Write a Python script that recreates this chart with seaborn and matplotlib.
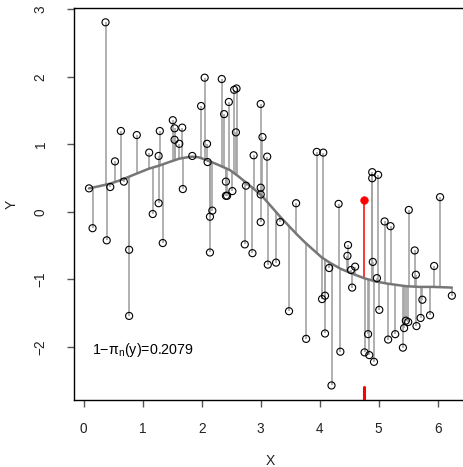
import numpy as np
import pandas as pd
import matplotlib
matplotlib.use("Agg")
import matplotlib.pyplot as plt
import seaborn as sns

# ---- data ----
pt_x = [0.09, 0.15, 0.37, 0.39, 0.45, 0.53, 0.63, 0.68, 0.77, 0.77,
        0.90, 1.11, 1.17, 1.27, 1.27, 1.29, 1.34, 1.51, 1.54, 1.54,
        1.62, 1.67, 1.68, 1.84, 1.99, 2.05, 2.09, 2.10, 2.14, 2.18,
        2.14, 2.34, 2.38, 2.46, 2.55, 2.59, 2.58, 2.41, 2.41, 2.43,
        2.52, 2.75, 2.73, 2.86, 2.88, 3.00, 3.03, 3.11, 3.00, 3.00,
        3.00, 3.12, 3.26, 3.33, 3.48, 3.60, 3.77, 3.95, 4.06, 4.04,
        4.09, 4.09, 4.16, 4.20, 4.32, 4.35, 4.48, 4.47, 4.53, 4.55,
        4.60, 4.76, 4.82, 4.84, 4.89, 4.89, 4.90, 4.92, 4.97, 4.99,
        5.01, 5.10, 5.16, 5.20, 5.28, 5.41, 5.43, 5.46, 5.50, 5.51,
        5.61, 5.63, 5.64, 5.71, 5.74, 5.87, 5.94, 6.04, 6.24]
pt_y = [0.35, -0.24, 2.81, -0.42, 0.37, 0.75, 1.20, 0.45, -0.56, -1.54,
        1.14, 0.88, -0.03, 0.83, 0.13, 1.20, -0.46, 1.36, 1.24, 1.07,
        1.01, 1.25, 0.34, 0.83, 1.57, 1.99, 1.01, 0.74, -0.07, 0.02,
        -0.60, 1.97, 1.45, 1.63, 1.81, 1.83, 1.18, 0.45, 0.24, 0.24,
        0.31, 0.39, -0.48, -0.61, 0.84, 1.60, 1.11, 0.82, 0.36, 0.26,
        -0.15, -0.78, -0.75, -0.15, -1.47, 0.13, -1.88, 0.89, 0.88, -1.29,
        -1.24, -1.80, -0.83, -2.57, 0.12, -2.07, -0.49, -0.65, -0.86, -1.12,
        -0.81, -2.08, -1.81, -2.12, 0.59, 0.50, -0.74, -2.22, -0.98, 0.55,
        -1.45, -0.14, -1.89, -0.21, -1.81, -2.01, -1.72, -1.61, -1.63, 0.03,
        -0.57, -0.93, -1.69, -1.57, -1.30, -1.53, -0.80, 0.22, -1.24]

test_x = [4.75]
test_y = [0.18]

curve_x = [0.09, 0.25, 0.45, 0.65, 0.90, 1.10, 1.29, 1.45, 1.62, 1.75, 1.84,
           1.95, 2.08, 2.25, 2.48, 2.62, 2.76, 2.90, 3.04, 3.18, 3.33, 3.47,
           3.61, 3.75, 3.89, 4.03, 4.17, 4.35, 4.57, 4.75, 4.95, 5.14, 5.30,
           5.47, 5.70, 5.93, 6.24]
curve_y = [0.35, 0.38, 0.42, 0.48, 0.57, 0.64, 0.69, 0.74, 0.79, 0.81, 0.82,
           0.81, 0.77, 0.71, 0.62, 0.53, 0.43, 0.33, 0.22, 0.08, -0.07, -0.20,
           -0.33, -0.45, -0.56, -0.67, -0.75, -0.84, -0.92, -0.98, -1.03, -1.06, -1.08,
           -1.10, -1.11, -1.11, -1.12]

annot_text = "1\u2212\u03c0$_{\\mathrm{n}}$(y)=0.2079"
x_ticks = [0, 1, 2, 3, 4, 5, 6]
y_ticks = [-2, -1, 0, 1, 2, 3]

# ---- figure ----
sns.set_theme(style="white")
plt.rcParams['font.family'] = ['Liberation Sans', 'DejaVu Sans']
plt.rcParams['mathtext.fontset'] = 'custom'
plt.rcParams['mathtext.rm'] = 'Liberation Sans'
plt.rcParams['mathtext.it'] = 'Liberation Sans:italic'

fig = plt.figure(figsize=(4.63, 4.67), dpi=100)
ax = fig.add_axes([0.1609, 0.1435, 0.8464, 0.8398])

pts = pd.DataFrame({"x": pt_x, "y": pt_y})
cur = pd.DataFrame({"x": curve_x, "y": curve_y})
tst = pd.DataFrame({"x": test_x, "y": test_y})

# residual segments to the fitted curve
fit_at_pts = np.interp(pts["x"], cur["x"], cur["y"])
ax.vlines(pts["x"], pts["y"], fit_at_pts, colors="#a3a3a3", lw=1.2, zorder=1)
fit_at_test = np.interp(tst["x"], cur["x"], cur["y"])
ax.vlines(tst["x"], tst["y"], fit_at_test, colors="red", lw=1.1, zorder=2)

sns.lineplot(data=cur, x="x", y="y", ax=ax, color="#767676", lw=1.8,
             sort=False, estimator=None, zorder=3)

sns.scatterplot(data=pts, x="x", y="y", ax=ax, s=26, marker="o",
                facecolor="none", edgecolor="black", linewidth=0.8, zorder=4)
sns.scatterplot(data=tst, x="x", y="y", ax=ax, s=30, marker="o",
                color="red", edgecolor="red", linewidth=0.5, zorder=5)

# rug tick for the test point
for xv in test_x:
    ax.axvline(xv, ymin=0, ymax=0.032, color="red", lw=2.2, zorder=5)

ax.text(1.0, -2.05, annot_text, ha="center", va="center", fontsize=10.3, color="black")

allx = pt_x + test_x
ally = pt_y + test_y
rx = max(allx) - min(allx)
ry = max(ally) - min(ally)
ax.set_xlim(min(allx) - 0.04 * rx, max(allx) + 0.04 * rx)
ax.set_ylim(min(ally) - 0.04 * ry, max(ally) + 0.04 * ry)

ax.set_xticks(x_ticks)
ax.set_yticks(y_ticks)
ax.set_xticklabels([str(t) for t in x_ticks])
ax.set_yticklabels([str(t).replace('-', '\u2212') for t in y_ticks], rotation=90, va="center")
ax.tick_params(axis="both", direction="out", length=5.2, width=1.0, color="#555555",
               labelsize=9.8, labelcolor="#222222")
ax.tick_params(axis="x", pad=10.5, bottom=True)
ax.tick_params(axis="y", pad=14, left=True)

for s in ax.spines.values():
    s.set_visible(True)
    s.set_color("black")
    s.set_linewidth(1.0)

ax.set_xlabel("X", fontsize=10, color="#222222")
ax.set_ylabel("Y", fontsize=10, color="#222222")
ax.xaxis.set_label_coords(0.5, -0.155)
ax.xaxis.label.set_va("center")
ax.yaxis.set_label_coords(-0.1595, 0.5)
ax.yaxis.label.set_va("center")
ax.grid(False)

fig.savefig("out.png", dpi=100)
